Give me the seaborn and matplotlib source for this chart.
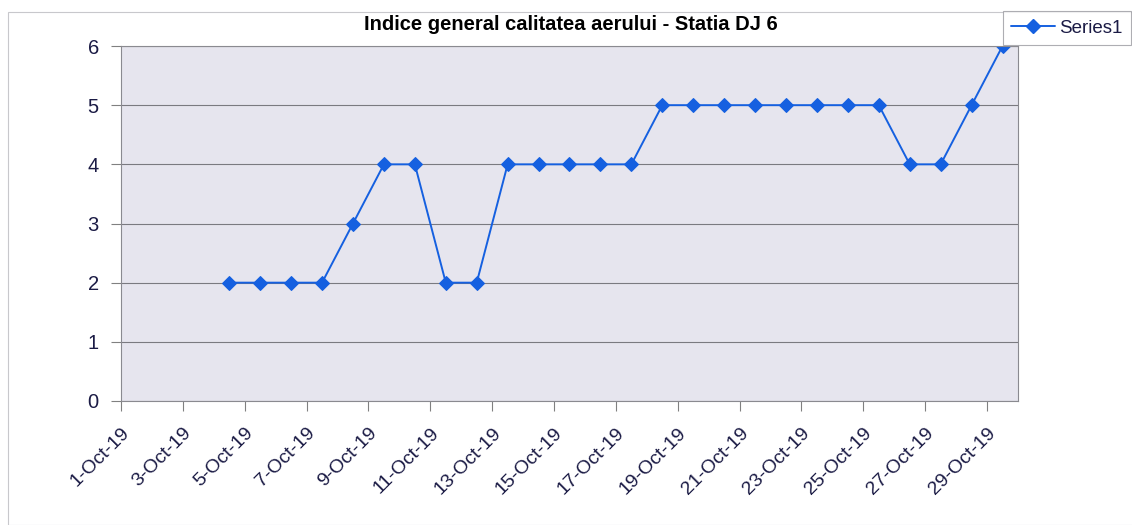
import matplotlib
matplotlib.use("Agg")
import matplotlib.pyplot as plt
import seaborn as sns
import pandas as pd
from matplotlib.patches import Rectangle
from matplotlib.lines import Line2D

title = "Indice general calitatea aerului - Statia DJ 6"
series_name = "Series1"
days = [4, 5, 6, 7, 8, 9, 10, 11, 12, 13, 14, 15, 16, 17, 18, 19, 20, 21,
        22, 23, 24, 25, 26, 27, 28, 29]
values = [2, 2, 2, 2, 3, 4, 4, 2, 2, 4, 4, 4, 4, 4, 5, 5, 5, 5,
          5, 5, 5, 5, 4, 4, 5, 6]
tick_days = list(range(1, 30, 2))
y_ticks = [0, 1, 2, 3, 4, 5, 6]

sns.set_theme(style="white")
plt.rcParams['font.family'] = ['Liberation Sans', 'DejaVu Sans']

text_col = "#1b1b45"
line_col = "#1560e0"

dates = pd.to_datetime([f"2019-10-{d:02d}" for d in days]) + pd.Timedelta(hours=12)
df = pd.DataFrame({"date": dates, "value": values})

fig = plt.figure(figsize=(11.32, 5.25), dpi=100)
fig.patch.set_facecolor("white")
# outer chart border
fig.add_artist(Rectangle((8/1132, 0), 1.2, 1 - 12/525, transform=fig.transFigure,
                         fill=False, edgecolor="#c8c8cc", linewidth=0.8))

ax = fig.add_axes([121/1132, 1 - 401/525, (1018 - 121)/1132, (401 - 46)/525])
ax.set_facecolor("#e6e5ee")

sns.lineplot(data=df, x="date", y="value", ax=ax, color=line_col, linewidth=1.4,
             marker="D", markersize=7.5, markeredgecolor=line_col, legend=False)

ax.set_xlim(pd.Timestamp("2019-10-01"), pd.Timestamp("2019-10-30"))
ax.set_ylim(0, 6)
ax.set_yticks(y_ticks)
ax.yaxis.grid(True, color="#7a7a80", linewidth=0.8)
ax.xaxis.grid(False)

tick_dates = pd.to_datetime([f"2019-10-{d:02d}" for d in tick_days])
ax.set_xticks(tick_dates)
ax.set_xticklabels([f"{d}-Oct-19" for d in tick_days])
ax.tick_params(axis="x", direction="out", length=7, width=0.8, color="#808080",
               labelsize=14, labelcolor=text_col, pad=10, bottom=True)
ax.tick_params(axis="y", direction="out", length=7, width=0.8, color="#808080",
               labelsize=14.5, labelcolor=text_col, pad=9, left=True)
for lab in ax.get_xticklabels():
    lab.set_rotation(45)
    lab.set_ha("right")
    lab.set_va("top")
    lab.set_rotation_mode("anchor")

for s in ax.spines.values():
    s.set_color("#8a8a90")
    s.set_linewidth(0.8)

ax.set_xlabel("")
ax.set_ylabel("")

fig.text(571/1132, 1 - 25/525, title, ha="center", va="center",
         fontsize=14.5, fontweight="bold", color="black")

handle = Line2D([], [], color=line_col, linewidth=1.4, marker="D", markersize=7.5,
                markeredgecolor=line_col)
leg = fig.legend([handle], [series_name], loc="upper left",
                 bbox_to_anchor=(1003/1132, 1 - 11/525), frameon=True,
                 fontsize=13.5, handlelength=2.3, handletextpad=0.25,
                 borderpad=0.45, fancybox=False, borderaxespad=0)
leg.get_frame().set_edgecolor("#9a9aa0")
leg.get_frame().set_linewidth(0.8)
for t in leg.get_texts():
    t.set_color(text_col)

fig.savefig("out.png", dpi=100)
